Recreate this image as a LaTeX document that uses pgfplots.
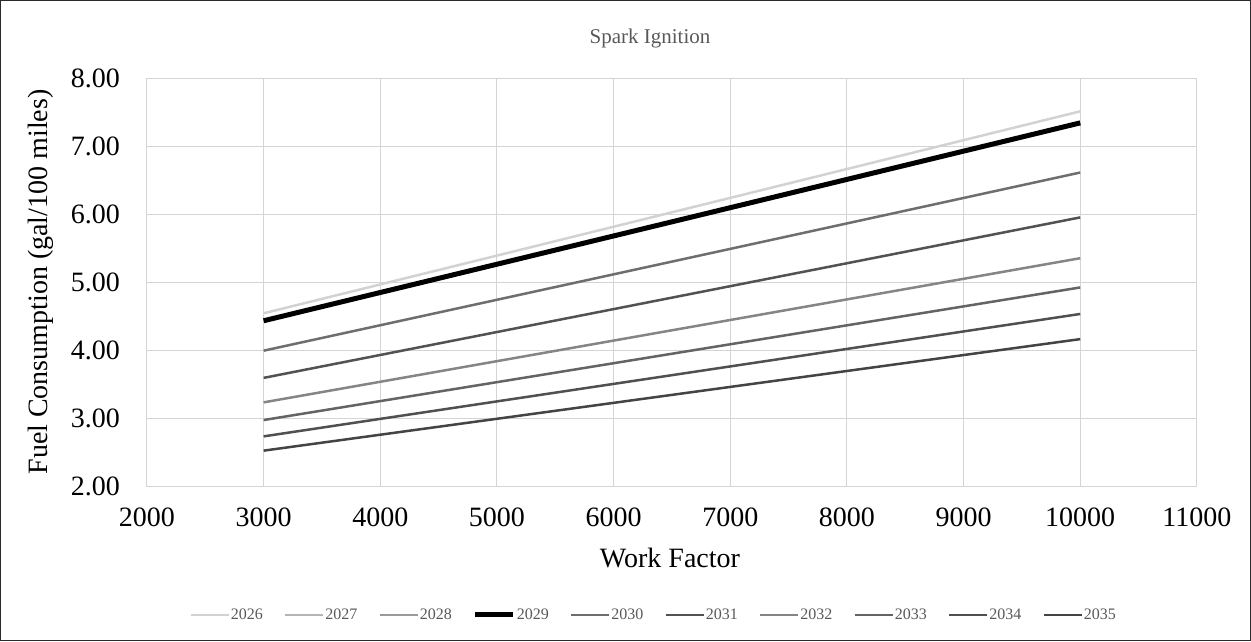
\documentclass[border=0pt]{standalone}
\usepackage{fontspec}
\setmainfont{Liberation Serif}
\usepackage{pgfplots}
\usepackage{pgfplotstable}
\pgfplotsset{compat=1.18}

\definecolor{gridgray}{HTML}{D4D4D4}
\definecolor{framecol}{HTML}{2A2A2A}
\definecolor{titlegray}{HTML}{595959}
\definecolor{c26}{HTML}{D2D2D2}
\definecolor{c27}{HTML}{B4B4B4}
\definecolor{c28}{HTML}{9A9A9A}
\definecolor{c30}{HTML}{6E6E6E}
\definecolor{c31}{HTML}{525252}
\definecolor{c32}{HTML}{858585}
\definecolor{c33}{HTML}{646464}
\definecolor{c34}{HTML}{505050}
\definecolor{c35}{HTML}{444444}

% work factor vs fuel consumption, one column per model year
\pgfplotstableread{
wf    y2026 y2027 y2028 y2029 y2030 y2031 y2032 y2033 y2034 y2035
3000  4.54  4.43  4.43  4.43  3.99  3.59  3.23  2.97  2.73  2.52
10000 7.51  7.34  7.34  7.34  6.61  5.95  5.35  4.92  4.53  4.16
}\datatable

\begin{document}
\begin{tikzpicture}
  \begin{axis}[
    at={(0,0)}, anchor=south west,
    scale only axis, width=1050pt, height=408pt,
    xmin=2000, xmax=11000, ymin=2, ymax=8,
    xtick={2000,3000,...,11000}, ytick={2,3,...,8},
    scaled x ticks=false,
    grid=major,
    grid style={gridgray, line width=1pt},
    axis line style={gridgray, line width=1pt},
    major tick length=0pt,
    tick label style={font=\fontsize{28}{32}\selectfont},
    /pgf/number format/assume math mode=true,
    xticklabel style={/pgf/number format/1000 sep={}, anchor=north, inner sep=0pt, yshift=-22pt},
    yticklabel style={/pgf/number format/fixed, /pgf/number format/fixed zerofill,
      /pgf/number format/precision=2, anchor=east, inner sep=0pt, xshift=-27pt},
    legend columns=10,
    legend style={draw=none, fill=none, at={(0.482,-0.316)}, anchor=center,
      font=\fontsize{16}{18}\selectfont, text=titlegray,
      /tikz/every even column/.append style={column sep=20pt},
      inner sep=0pt, nodes={inner sep=1pt}},
    legend image code/.code={\draw[#1] (0pt,0pt) -- (38pt,0pt);},
    ]
    \addplot[c26, line width=2.5pt] table[x=wf, y=y2026] {\datatable};
    \addlegendentry{2026}
    \addplot[c27, line width=2.5pt] table[x=wf, y=y2027] {\datatable};
    \addlegendentry{2027}
    \addplot[c28, line width=2.5pt] table[x=wf, y=y2028] {\datatable};
    \addlegendentry{2028}
    \addplot[black, line width=5pt] table[x=wf, y=y2029] {\datatable};
    \addlegendentry{2029}
    \addplot[c30, line width=2.5pt] table[x=wf, y=y2030] {\datatable};
    \addlegendentry{2030}
    \addplot[c31, line width=2.5pt] table[x=wf, y=y2031] {\datatable};
    \addlegendentry{2031}
    \addplot[c32, line width=2.5pt] table[x=wf, y=y2032] {\datatable};
    \addlegendentry{2032}
    \addplot[c33, line width=2.5pt] table[x=wf, y=y2033] {\datatable};
    \addlegendentry{2033}
    \addplot[c34, line width=2.5pt] table[x=wf, y=y2034] {\datatable};
    \addlegendentry{2034}
    \addplot[c35, line width=2.5pt] table[x=wf, y=y2035] {\datatable};
    \addlegendentry{2035}
  \end{axis}
  \node[anchor=base, text=titlegray, font=\fontsize{21}{25}\selectfont] at (503pt,442pt) {Spark Ignition};
  \node[anchor=base, font=\fontsize{28}{32}\selectfont] at (523pt,-81pt) {Work Factor};
  \node[rotate=90, font=\fontsize{28}{32}\selectfont] at (-106pt,204pt) {Fuel Consumption (gal/100 miles)};
  \draw[framecol, line width=1.2pt] (-146.4pt,-154.4pt) rectangle (1103.4pt,485.4pt);
\end{tikzpicture}
\end{document}
